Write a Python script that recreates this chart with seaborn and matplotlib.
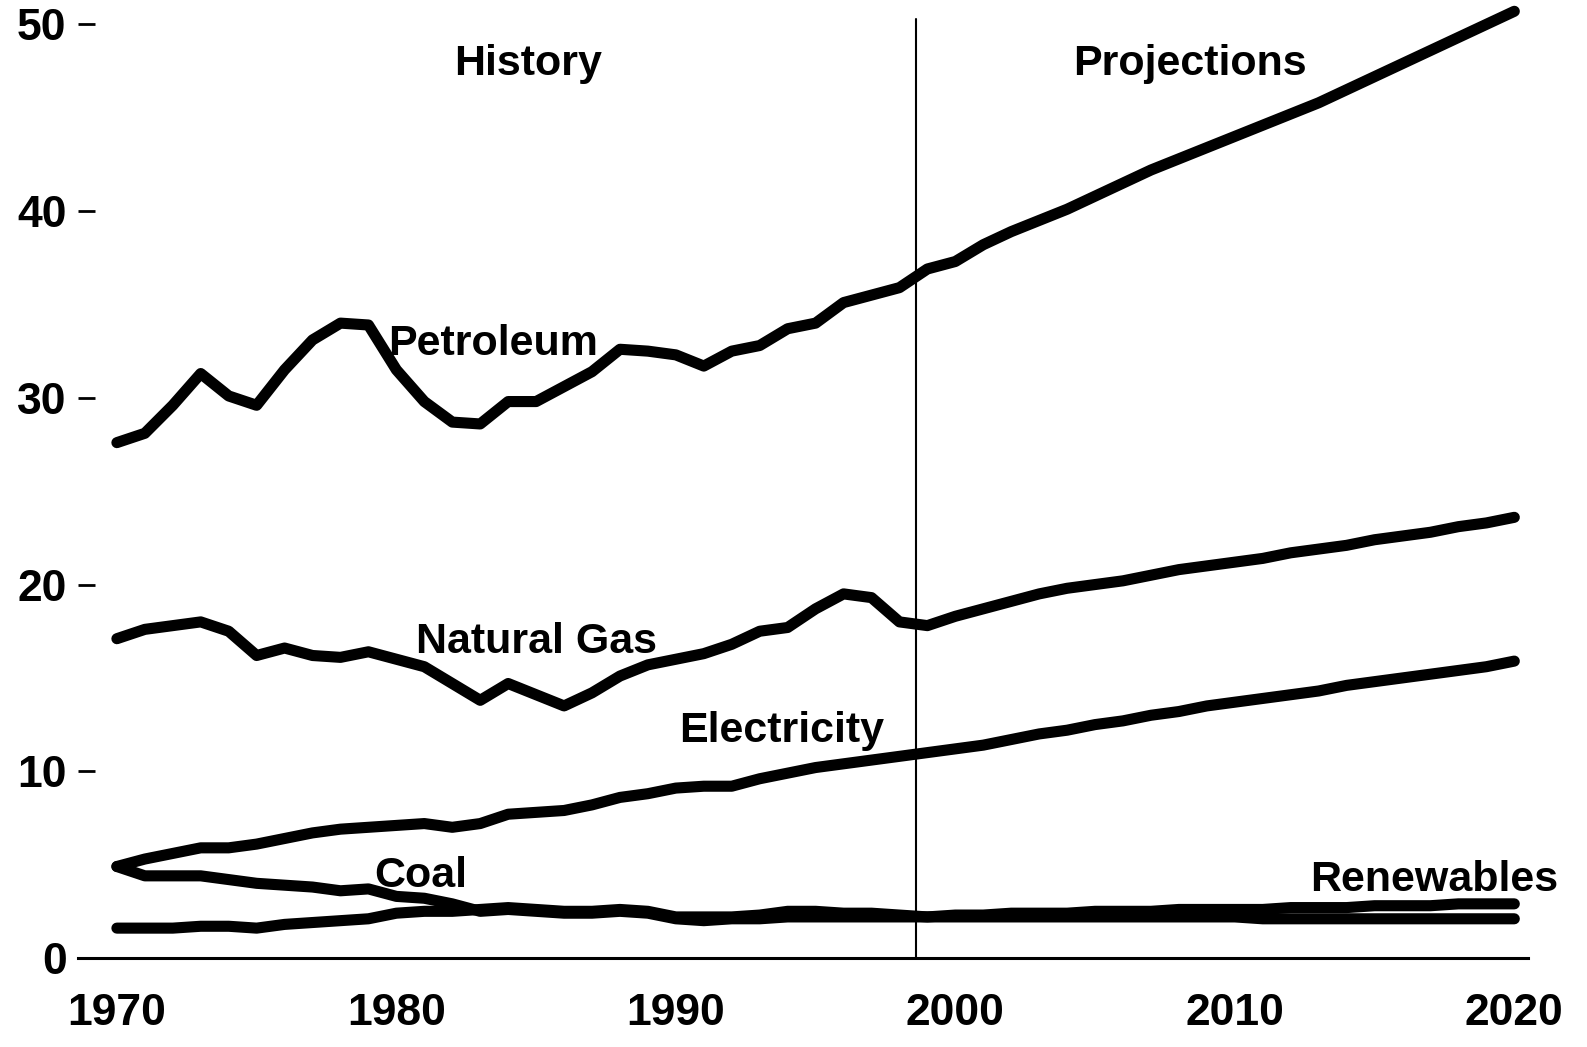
import numpy as np
import pandas as pd
import matplotlib
matplotlib.use("Agg")
import matplotlib.pyplot as plt
import seaborn as sns

sns.set_theme(style="white")
plt.rcParams['font.family'] = ['Liberation Sans', 'DejaVu Sans']

# data
years = list(range(1970, 2021))
history_end = 1998.6   # where the divider sits in the picture

petroleum = [27.6, 28.1, 29.6, 31.3, 30.1, 29.6, 31.5, 33.1, 34.0, 33.9,
             31.5, 29.8, 28.7, 28.6, 29.8, 29.8, 30.6, 31.4, 32.6, 32.5,
             32.3, 31.7, 32.5, 32.8, 33.7, 34.0, 35.1, 35.5, 35.9, 36.9,
             37.3, 38.2, 38.9, 39.5, 40.1, 40.8, 41.5, 42.2, 42.8, 43.4,
             44.0, 44.6, 45.2, 45.8, 46.5, 47.2, 47.9, 48.6, 49.3, 50.0,
             50.7]
natural_gas = [17.1, 17.6, 17.8, 18.0, 17.5, 16.2, 16.6, 16.2, 16.1, 16.4,
               16.0, 15.6, 14.7, 13.8, 14.7, 14.1, 13.5, 14.2, 15.1, 15.7,
               16.0, 16.3, 16.8, 17.5, 17.7, 18.7, 19.5, 19.3, 18.0, 17.8,
               18.3, 18.7, 19.1, 19.5, 19.8, 20.0, 20.2, 20.5, 20.8, 21.0,
               21.2, 21.4, 21.7, 21.9, 22.1, 22.4, 22.6, 22.8, 23.1, 23.3,
               23.6]
electricity = [4.9, 5.3, 5.6, 5.9, 5.9, 6.1, 6.4, 6.7, 6.9, 7.0,
               7.1, 7.2, 7.0, 7.2, 7.7, 7.8, 7.9, 8.2, 8.6, 8.8,
               9.1, 9.2, 9.2, 9.6, 9.9, 10.2, 10.4, 10.6, 10.8, 11.0,
               11.2, 11.4, 11.7, 12.0, 12.2, 12.5, 12.7, 13.0, 13.2, 13.5,
               13.7, 13.9, 14.1, 14.3, 14.6, 14.8, 15.0, 15.2, 15.4, 15.6,
               15.9]
coal = [4.9, 4.4, 4.4, 4.4, 4.2, 4.0, 3.9, 3.8, 3.6, 3.7,
        3.3, 3.2, 2.9, 2.5, 2.6, 2.5, 2.4, 2.4, 2.5, 2.4,
        2.1, 2.0, 2.1, 2.1, 2.2, 2.2, 2.2, 2.2, 2.2, 2.2,
        2.2, 2.2, 2.2, 2.2, 2.2, 2.2, 2.2, 2.2, 2.2, 2.2,
        2.2, 2.1, 2.1, 2.1, 2.1, 2.1, 2.1, 2.1, 2.1, 2.1,
        2.1]
renewables = [1.6, 1.6, 1.6, 1.7, 1.7, 1.6, 1.8, 1.9, 2.0, 2.1,
              2.4, 2.5, 2.5, 2.6, 2.7, 2.6, 2.5, 2.5, 2.6, 2.5,
              2.2, 2.2, 2.2, 2.3, 2.5, 2.5, 2.4, 2.4, 2.3, 2.2,
              2.3, 2.3, 2.4, 2.4, 2.4, 2.5, 2.5, 2.5, 2.6, 2.6,
              2.6, 2.6, 2.7, 2.7, 2.7, 2.8, 2.8, 2.8, 2.9, 2.9,
              2.9]

# long format for seaborn
series = {'Petroleum': petroleum, 'Natural Gas': natural_gas,
          'Electricity': electricity, 'Coal': coal, 'Renewables': renewables}
df = pd.concat([pd.DataFrame({'year': years, 'value': v, 'fuel': k})
                for k, v in series.items()], ignore_index=True)

fig = plt.figure(figsize=(15.87, 10.47), dpi=100)
ax = fig.add_axes([0.049, 0.085, 0.914, 0.906])

sns.lineplot(data=df, x='year', y='value', hue='fuel', units='fuel',
             estimator=None, palette={k: 'black' for k in series},
             linewidth=8, legend=False, ax=ax, clip_on=False)

# history / projections divider
ax.plot([history_end, history_end], [0, 50.3], color='black', lw=1.5)

ax.set_xlim(1968.6, 2020.5)
ax.set_ylim(0, 50.8)
ax.set_xticks([1970, 1980, 1990, 2000, 2010, 2020])
ax.set_yticks([0, 10, 20, 30, 40, 50])
ax.set_xlabel('')
ax.set_ylabel('')

for s in ['top', 'right', 'left']:
    ax.spines[s].set_visible(False)
ax.spines['bottom'].set_linewidth(2.2)
ax.spines['bottom'].set_color('black')

ax.tick_params(axis='y', direction='in', length=12, width=2, pad=8,
               labelsize=32, colors='black', left=True)
ax.tick_params(axis='x', length=0, pad=25, labelsize=32, colors='black')
for lab in ax.get_xticklabels() + ax.get_yticklabels():
    lab.set_fontweight('bold')

# annotations
lbl = dict(fontsize=31, fontweight='bold', color='black')
ax.text(1984.7, 47.9, 'History', ha='center', va='center', **lbl)
ax.text(2008.4, 47.9, 'Projections', ha='center', va='center', **lbl)
ax.text(1979.7, 32.9, 'Petroleum', ha='left', va='center', **lbl)
ax.text(1980.7, 16.9, 'Natural Gas', ha='left', va='center', **lbl)
ax.text(1990.1, 12.15, 'Electricity', ha='left', va='center', **lbl)
ax.text(1979.2, 4.4, 'Coal', ha='left', va='center', **lbl)
ax.text(2012.7, 4.2, 'Renewables', ha='left', va='center', **lbl)

plt.savefig('out.png', dpi=100)
